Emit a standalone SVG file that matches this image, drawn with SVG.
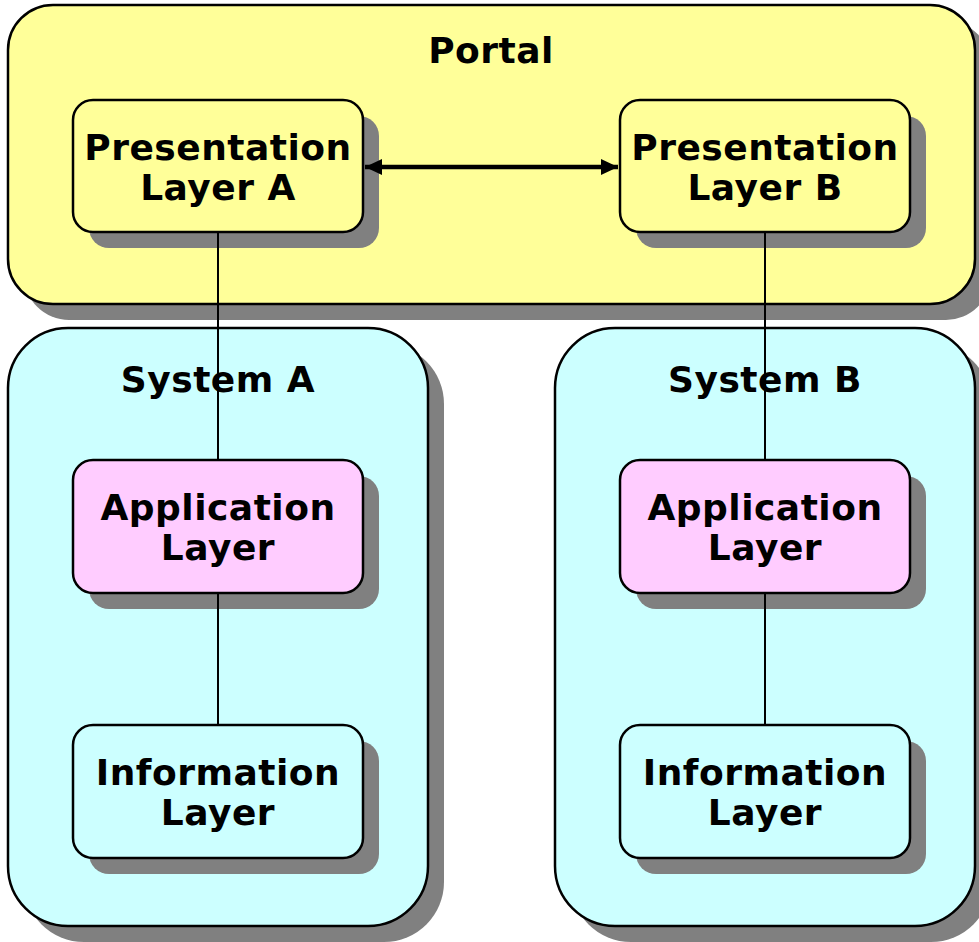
<svg xmlns="http://www.w3.org/2000/svg" width="979" height="942" viewBox="0 0 979 942">
  <style>
    .shadow { fill: #808080; }
    .box { stroke: #000; stroke-width: 2.5; }
    .portal { fill: #FFFF99; }
    .system { fill: #CCFFFF; }
    .app { fill: #FFCCFF; }
    .label { font-family: "DejaVu Sans", Verdana, sans-serif; font-weight: bold; font-size: 36px; letter-spacing: 0.5px; fill: #000; text-anchor: middle; }
    .link { stroke: #000; stroke-width: 2; fill: none; }
    .arrow { stroke: #000; stroke-width: 4.5; fill: none; }
  </style>
  <defs>
    <marker id="head" viewBox="0 0 17 16" refX="17" refY="8" markerWidth="17" markerHeight="16" orient="auto-start-reverse" markerUnits="userSpaceOnUse">
      <path d="M0,0 L17,8 L0,16 Z" fill="#000"/>
    </marker>
  </defs>

  <!-- Portal container -->
  <g id="portal">
    <rect class="shadow" x="24" y="21" width="967" height="299" rx="45"/>
    <rect class="box portal" x="8" y="5" width="967" height="299" rx="45"/>
    <text class="label" x="491" y="63">Portal</text>
  </g>

  <!-- System containers -->
  <g id="system-a">
    <rect class="shadow" x="24" y="344" width="420" height="598" rx="60"/>
    <rect class="box system" x="8" y="328" width="420" height="598" rx="60"/>
    <text class="label" x="218" y="392">System A</text>
  </g>
  <g id="system-b">
    <rect class="shadow" x="571" y="344" width="420" height="598" rx="60"/>
    <rect class="box system" x="555" y="328" width="420" height="598" rx="60"/>
    <text class="label" x="765" y="392">System B</text>
  </g>

  <!-- Layer nodes -->
  <g id="presentation-a">
    <rect class="shadow" x="89" y="116" width="290" height="132" rx="20"/>
    <rect class="box portal" x="73" y="100" width="290" height="132" rx="20"/>
    <text class="label" x="218" y="160">Presentation</text>
    <text class="label" x="218" y="200">Layer A</text>
  </g>
  <g id="presentation-b">
    <rect class="shadow" x="636" y="116" width="290" height="132" rx="20"/>
    <rect class="box portal" x="620" y="100" width="290" height="132" rx="20"/>
    <text class="label" x="765" y="160">Presentation</text>
    <text class="label" x="765" y="200">Layer B</text>
  </g>
  <g id="application-a">
    <rect class="shadow" x="89" y="476" width="290" height="133" rx="20"/>
    <rect class="box app" x="73" y="460" width="290" height="133" rx="20"/>
    <text class="label" x="218" y="520">Application</text>
    <text class="label" x="218" y="560">Layer</text>
  </g>
  <g id="application-b">
    <rect class="shadow" x="636" y="476" width="290" height="133" rx="20"/>
    <rect class="box app" x="620" y="460" width="290" height="133" rx="20"/>
    <text class="label" x="765" y="520">Application</text>
    <text class="label" x="765" y="560">Layer</text>
  </g>
  <g id="information-a">
    <rect class="shadow" x="89" y="741" width="290" height="133" rx="20"/>
    <rect class="box system" x="73" y="725" width="290" height="133" rx="20"/>
    <text class="label" x="218" y="785">Information</text>
    <text class="label" x="218" y="825">Layer</text>
  </g>
  <g id="information-b">
    <rect class="shadow" x="636" y="741" width="290" height="133" rx="20"/>
    <rect class="box system" x="620" y="725" width="290" height="133" rx="20"/>
    <text class="label" x="765" y="785">Information</text>
    <text class="label" x="765" y="825">Layer</text>
  </g>

  <!-- Connectors -->
  <g id="connectors">
    <line class="arrow" x1="365" y1="167" x2="618" y2="167" marker-start="url(#head)" marker-end="url(#head)"/>
    <line class="link" x1="218" y1="232" x2="218" y2="460"/>
    <line class="link" x1="218" y1="593" x2="218" y2="725"/>
    <line class="link" x1="765" y1="232" x2="765" y2="460"/>
    <line class="link" x1="765" y1="593" x2="765" y2="725"/>
  </g>
</svg>
